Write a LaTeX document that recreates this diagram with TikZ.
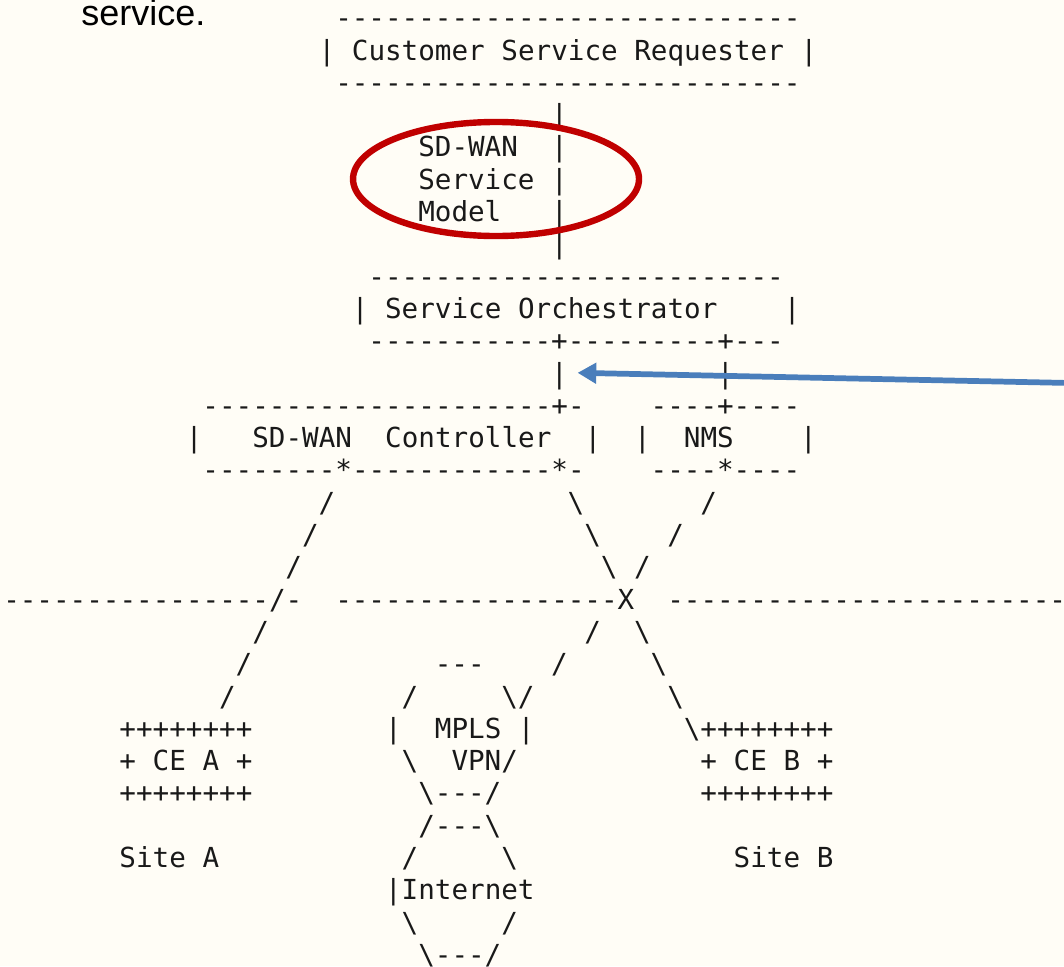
\documentclass[tikz,border=0pt]{standalone}
\usepackage{fontspec}
\setmainfont{Liberation Sans}
\setmonofont{DejaVu Sans Mono}
\usepackage[]{xcolor}
\usetikzlibrary{arrows.meta}
\definecolor{bgcream}{RGB}{255,253,246}
\definecolor{asciiink}{RGB}{25,25,25}
\definecolor{markred}{RGB}{192,0,0}
\definecolor{markblue}{RGB}{74,126,187}
\tikzset{
  ascii/.style={font=\ttfamily\fontsize{20.7}{24}\selectfont, text=asciiink, anchor=base west, inner sep=0pt},
  lead/.style={font=\fontsize{27}{32}\selectfont, anchor=base west, inner sep=0pt},
  ring/.style={draw=markred, line width=4.8pt},
  ptr/.style={draw=markblue, line width=4.3pt, -{Triangle[length=14pt,width=15pt]}},
}

\begin{document}
\begin{tikzpicture}[x=12.45pt, y=-24.225pt]
    % page
    \coordinate (nw) at (-0.1807,-0.8576);
    \coordinate (se) at (63.916,29.05);
    \useasboundingbox (nw) rectangle (se);
    \fill[bgcream] (nw) rectangle (se);
    \node[lead] (lead) at (4.70,-0.053) {service.};
    % requester and orchestrator
    \node[ascii] (reqtop) at (20,0) {----------------------------};
    \node[ascii] (req) at (19,1) {|~Customer~Service~Requester~|};
    \node[ascii] (reqbot) at (20,2) {----------------------------};
    \node[ascii] (model) at (25,4) {SD-WAN~~|};
    \node[ascii] (model2) at (25,5) {Service~|};
    \node[ascii] (model3) at (25,6) {Model~~~|};
    \node[ascii] (orchtop) at (22,8) {-------------------------};
    \node[ascii] (orch) at (21,9) {|~Service~Orchestrator~~~~|};
    \node[ascii] (orchbot) at (22,10) {-----------+---------+---};
    \node[ascii] (ctllink) at (33,11) {|};
    % controller and NMS
    \node[ascii] (ctltop) at (12,12) {---------------------+-};
    \node[ascii] (ctl) at (11,13) {|~~~SD-WAN~~Controller~~|};
    \node[ascii] (ctlbot) at (12,14) {--------*------------*-};
    \node[ascii] (nmstop) at (39,12) {----+----};
    \node[ascii] (nms) at (38,13) {|~~NMS~~~~|};
    \node[ascii] (nmsbot) at (39,14) {----*----};
    % domain border
    \node[ascii] (borda) at (0,18) {----------------/-};
    \node[ascii] (bordb) at (20,18) {-----------------X};
    \node[ascii] (bordc) at (40,18) {------------------------};
    % CEs and sites
    \node[ascii] (ceatop) at (7,22) {++++++++};
    \node[ascii] (cea) at (7,23) {+~CE~A~+};
    \node[ascii] (ceabot) at (7,24) {++++++++};
    \node[ascii] (sitea) at (7,26) {Site~A};
    \node[ascii] (cebtop) at (42,22) {++++++++};
    \node[ascii] (ceb) at (42,23) {+~CE~B~+};
    \node[ascii] (cebbot) at (42,24) {++++++++};
    \node[ascii] (siteb) at (44,26) {Site~B};
    % clouds
    \node[ascii] (mplstop) at (26,20) {---};
    \node[ascii] (mplsup) at (24,21) {/~~~~~\textbackslash};
    \node[ascii] (mpls) at (23,22) {|~~MPLS~|};
    \node[ascii] (vpn) at (24,23) {\textbackslash~~VPN/};
    \node[ascii] (mplsbot) at (25,24) {\textbackslash---/};
    \node[ascii] (inettop) at (25,25) {/---\textbackslash};
    \node[ascii] (inetup) at (24,26) {/~~~~~\textbackslash};
    \node[ascii] (inet) at (23,27) {|Internet};
    \node[ascii] (inetlow) at (24,28) {\textbackslash~~~~~/};
    \node[ascii] (inetbot) at (25,29) {\textbackslash---/};
    % ascii links
    \foreach \c/\l/\s in {33/3/|, 33/7/|, 43/11/|,
        19/15/{/}, 34/15/\textbackslash, 42/15/{/},
        18/16/{/}, 35/16/\textbackslash, 40/16/{/},
        17/17/{/}, 36/17/\textbackslash, 38/17/{/},
        15/19/{/}, 35/19/{/}, 38/19/\textbackslash,
        14/20/{/}, 33/20/{/}, 39/20/\textbackslash,
        13/21/{/}, 31/21/{/}, 40/21/\textbackslash,
        41/22/\textbackslash}
        \node[ascii] (k-\l-\c) at (\c,\l) {\s};
    % markup
    \draw[ring] (29.70,4.684) ellipse [x radius=8.614, y radius=1.765];
    \coordinate (ptrtail) at (64.3,11.0);
    \draw[ptr] (ptrtail) -- ([shift={(0.58,-0.09)}]ctllink.east);
\end{tikzpicture}
\end{document}
